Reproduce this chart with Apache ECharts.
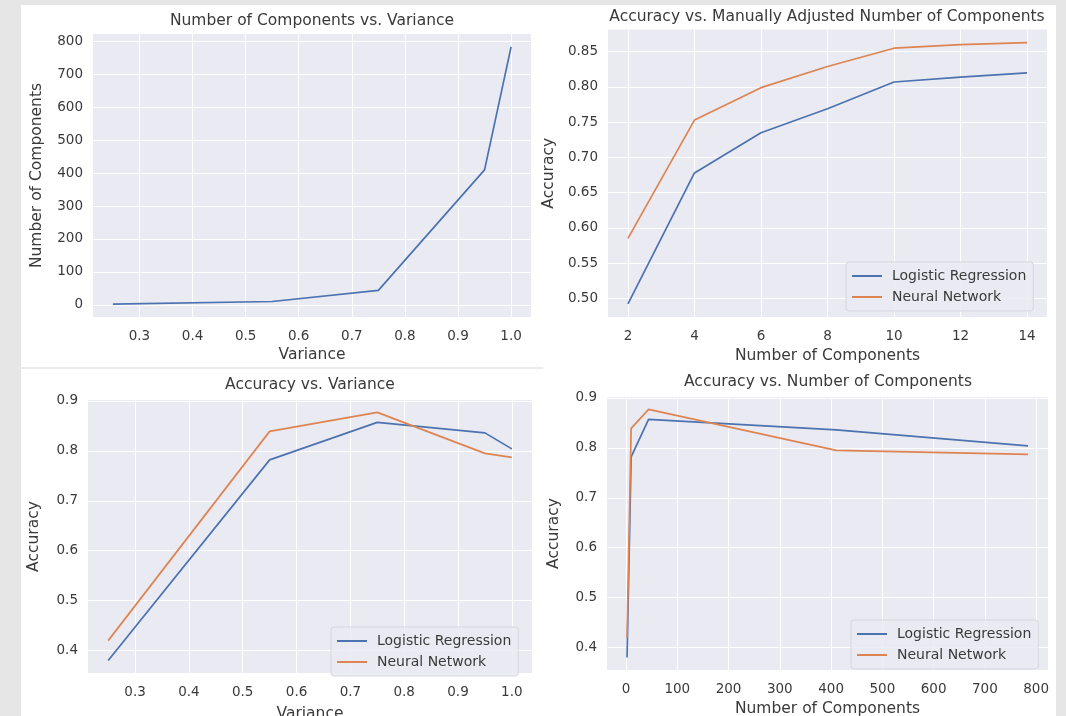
<!DOCTYPE html>
<html><head><meta charset="utf-8">
<script src="https://cdn.jsdelivr.net/npm/echarts@6/dist/echarts.min.js"></script>
<style>html,body{margin:0;padding:0;background:#ffffff}#c{width:1066px;height:716px}</style>
</head><body><div id="c"></div>
<script>
// ---- data ----
const variance = [0.25, 0.55, 0.75, 0.95, 1.0];
const numComponents = [2, 10, 44, 410, 784];
const lrByVariance = [0.38, 0.782, 0.857, 0.836, 0.804];
const nnByVariance = [0.42, 0.839, 0.877, 0.795, 0.787];
const manualComponents = [2, 4, 6, 8, 10, 12, 14];
const lrManual = [0.492, 0.678, 0.735, 0.769, 0.807, 0.814, 0.820];
const nnManual = [0.585, 0.753, 0.799, 0.829, 0.855, 0.860, 0.863];

// ---- tick labels ----
const varianceTicks = [0.3, 0.4, 0.5, 0.6, 0.7, 0.8, 0.9, 1.0];
const componentYTicks = [0, 100, 200, 300, 400, 500, 600, 700, 800];
const componentXTicks = [0, 100, 200, 300, 400, 500, 600, 700, 800];
const manualXTicks = [2, 4, 6, 8, 10, 12, 14];
const manualAccTicks = [0.50, 0.55, 0.60, 0.65, 0.70, 0.75, 0.80, 0.85];
const accTicks = [0.4, 0.5, 0.6, 0.7, 0.8, 0.9];

const titles = ['Number of Components vs. Variance', 'Accuracy vs. Manually Adjusted Number of Components', 'Accuracy vs. Variance', 'Accuracy vs. Number of Components'];
const seriesNames = ['Logistic Regression', 'Neural Network'];

const LR = '#4c72b0', NN = '#dd8452';
const FONT = 'DejaVu Sans';
const TXT = '#3a3a3a';

function padRange() {
  let all = [];
  for (const a of arguments) all = all.concat(a);
  const mn = Math.min(...all), mx = Math.max(...all), d = (mx - mn) * 0.05;
  return [mn - d, mx + d];
}
function zip(xs, ys) { return xs.map((x, i) => [x, ys[i]]); }

function axis(gridIndex, ticks, range, dec, name, gap, isY) {
  return {
    type: 'value', gridIndex, min: range[0], max: range[1],
    name, nameLocation: 'middle', nameGap: gap,
    nameTextStyle: { fontFamily: FONT, fontSize: 15.5, color: TXT },
    axisLine: { show: false }, axisTick: { show: false, customValues: ticks },
    axisLabel: { customValues: ticks, fontFamily: FONT, fontSize: 13.5, color: TXT,
      margin: isY ? 10 : 12, formatter: v => dec == null ? String(Math.round(v)) : Number(v).toFixed(dec) },
    splitLine: { show: true, lineStyle: { color: '#ffffff', width: 1 } }
  };
}

const grids = [
  { left: 93, top: 34, width: 438, height: 283 },
  { left: 608, top: 29.5, width: 439, height: 287.5 },
  { left: 88, top: 400, width: 444, height: 273 },
  { left: 607, top: 397, width: 441, height: 273 }
].map(g => Object.assign({ show: true, backgroundColor: '#eaeaf2', borderWidth: 0, containLabel: false, outerBoundsMode: 'none' }, g));

const xAxes = [
  axis(0, varianceTicks, padRange(variance), 1, 'Variance', 30, false),
  axis(1, manualXTicks, padRange(manualComponents), null, 'Number of Components', 31, false),
  axis(2, varianceTicks, padRange(variance), 1, 'Variance', 33, false),
  axis(3, componentXTicks, padRange(numComponents), null, 'Number of Components', 31, false)
];
const yAxes = [
  axis(0, componentYTicks, padRange(numComponents), null, 'Number of Components', 48, true),
  axis(1, manualAccTicks, padRange(lrManual, nnManual), 2, 'Accuracy', 51, true),
  axis(2, accTicks, padRange(lrByVariance, nnByVariance), 1, 'Accuracy', 46, true),
  axis(3, accTicks, padRange(lrByVariance, nnByVariance), 1, 'Accuracy', 45, true)
];

function line(name, idx, data, color) {
  return { type: 'line', name, xAxisIndex: idx, yAxisIndex: idx, data, symbol: 'none',
    lineStyle: { color, width: 1.7 }, itemStyle: { color }, animation: false };
}
const series = [
  line('Components', 0, zip(variance, numComponents), LR),
  line(seriesNames[0], 1, zip(manualComponents, lrManual), LR),
  line(seriesNames[1], 1, zip(manualComponents, nnManual), NN),
  line(seriesNames[0], 2, zip(variance, lrByVariance), LR),
  line(seriesNames[1], 2, zip(variance, nnByVariance), NN),
  line(seriesNames[0], 3, zip(numComponents, lrByVariance), LR),
  line(seriesNames[1], 3, zip(numComponents, nnByVariance), NN)
];

function legend(left, top) {
  return { data: seriesNames, orient: 'vertical', left, top, itemWidth: 30, itemHeight: 14, itemGap: 7,
    padding: [7, 7, 7, 5], backgroundColor: 'rgba(234,234,242,0.85)', borderColor: '#d6d6de', borderWidth: 1, borderRadius: 3,
    itemStyle: { opacity: 0 },
    textStyle: { fontFamily: FONT, fontSize: 14, color: TXT, padding: [0, 0, 0, 5] }, selectedMode: false };
}

const titleCfg = [[312, 12.5], [827, 8.5], [310, 377], [828, 373.5]].map((p, i) => ({
  text: titles[i], left: p[0], top: p[1], textAlign: 'center', padding: 0,
  textStyle: { fontFamily: FONT, fontSize: 15.5, fontWeight: 'normal', color: TXT }
}));

const chart = echarts.init(document.getElementById('c'), null, { renderer: 'canvas' });
chart.setOption({
  backgroundColor: '#ffffff',
  animation: false,
  title: titleCfg,
  grid: grids, xAxis: xAxes, yAxis: yAxes, series,
  legend: [legend(846, 262), legend(331, 627), legend(851, 620)],
  graphic: [
    { type: 'rect', shape: { x: 0, y: 0, width: 21, height: 716 }, style: { fill: '#e6e6e6' }, z: 100, silent: true },
    { type: 'rect', shape: { x: 0, y: 0, width: 1066, height: 5 }, style: { fill: '#e6e6e6' }, z: 100, silent: true },
    { type: 'rect', shape: { x: 1056, y: 0, width: 10, height: 716 }, style: { fill: '#e6e6e6' }, z: 100, silent: true },
    { type: 'rect', shape: { x: 21, y: 367, width: 522, height: 2 }, style: { fill: '#ececec' }, z: 100, silent: true }
  ]
});
</script></body></html>
